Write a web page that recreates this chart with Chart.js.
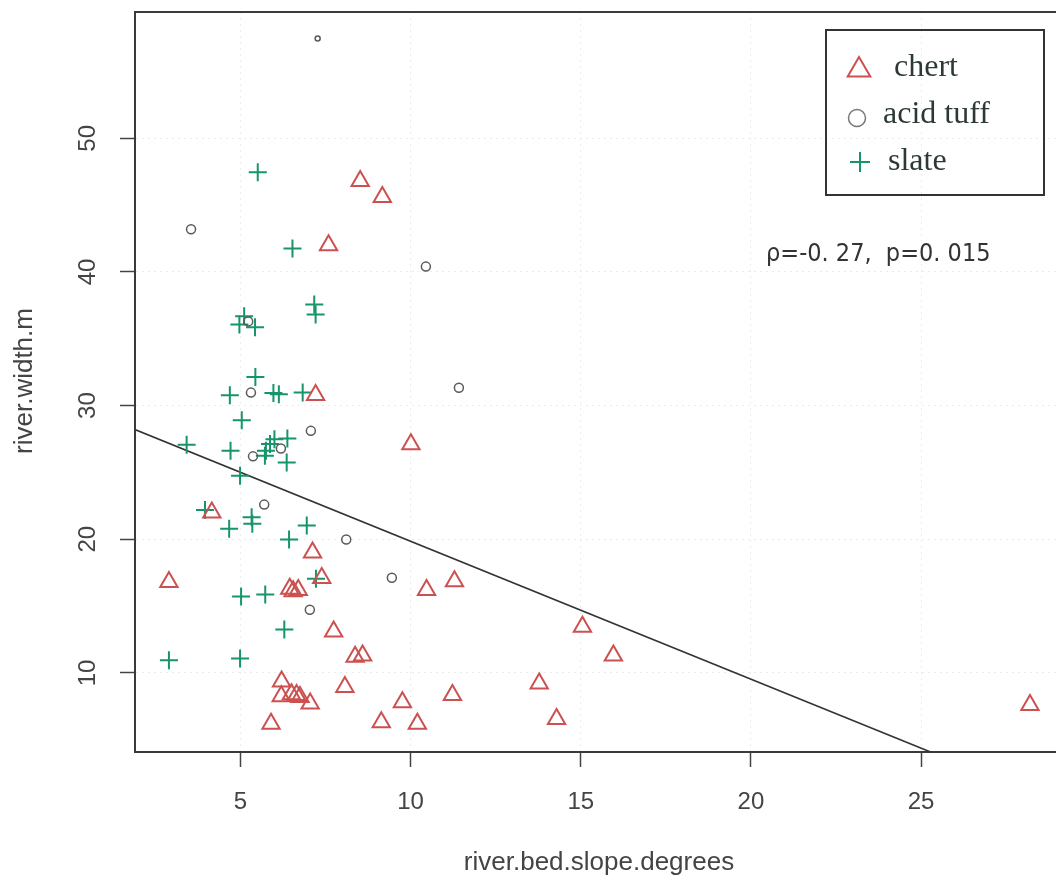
<!DOCTYPE html>
<html lang="en">
<head>
    <meta charset="UTF-8">
    <title>river width vs river bed slope</title>
    <style>
        body {
            margin: 0;
            padding: 0;
            background: #fff;
            overflow: hidden;
        }

        .chart-container {
            position: relative;
            width: 1100px;
            height: 884px;
        }
    </style>
    <script src="https://cdn.jsdelivr.net/npm/chart.js"></script>
</head>
<body>
    <div class="chart-container">
        <canvas id="slopeChart"></canvas>
    </div>
    <script>
        // values
        const chertX = [8.52, 9.17, 7.59, 7.21, 10.01, 4.16, 7.12, 2.90, 7.39, 6.45, 6.55, 6.70, 10.47, 11.29, 7.74, 8.37, 8.59,
                        15.05, 15.96, 6.21, 8.07, 13.78, 6.20, 6.50, 6.65, 6.75, 11.23, 7.05, 9.76, 5.90, 9.14, 10.20, 14.29, 28.20];
        const chertY = [46.8, 45.6, 42.0, 30.8, 27.1, 22.0, 19.0, 16.8, 17.1, 16.3, 16.1, 16.2, 16.2, 16.85, 13.1, 11.2, 11.3,
                        13.45, 11.3, 9.35, 8.95, 9.2, 8.25, 8.4, 8.35, 8.2, 8.35, 7.7, 7.8, 6.2, 6.3, 6.2, 6.55, 7.6];

        const tuffX = [7.27, 3.55, 10.45, 11.42, 5.23, 5.31, 7.07, 6.19, 5.37, 5.70, 8.11, 9.45, 7.04];
        const tuffY = [57.46, 43.2, 40.4, 31.34, 36.3, 30.97, 28.11, 26.79, 26.2, 22.59, 19.98, 17.12, 14.73];
        const tuffSize = [2.5, 4.5, 4.5, 4.5, 4.5, 4.5, 4.5, 4.5, 4.5, 4.5, 4.5, 4.5, 4.5];

        const slateX = [5.51, 6.53, 7.17, 7.21, 5.11, 4.97, 5.43, 5.44, 4.69, 5.97, 6.13, 6.83, 5.04, 3.42, 4.71, 6.00, 6.38,
                        5.87, 5.75, 5.72, 6.36, 4.99, 3.96, 5.33, 4.67, 5.35, 6.95, 6.43, 7.22, 5.02, 5.73, 6.29, 2.90, 4.99];
        const slateY = [47.46, 41.75, 37.57, 36.82, 36.69, 36.07, 35.87, 32.14, 30.78, 30.95, 30.85, 30.97, 28.91, 27.07, 26.62, 27.49, 27.54,
                        27.12, 26.62, 26.25, 25.75, 24.75, 22.19, 21.64, 20.78, 21.15, 21.02, 19.98, 17.04, 15.72, 15.87, 13.24, 10.95, 11.07];

        // fitted line, end points where it meets the plot frame
        const fitX = [1.90, 25.28];
        const fitY = [28.21, 4.08];

        const xTicks = [5, 10, 15, 20, 25];
        const yTicks = [10, 20, 30, 40, 50];

        const legendNames = ['chert', 'acid tuff', 'slate'];
        const statText = 'ρ=-0. 27,  p=0. 015';

        const toPoints = (xs, ys) => xs.map((x, i) => ({ x: x, y: ys[i] }));

        const RED = '#cd5050';
        const GREY = '#5a5a5a';
        const GREEN = '#17956a';
        const AXIS_FONT = '"Liberation Sans", Arial, sans-serif';

        // frame top, rotated y labels, axis titles, legend and the statistic
        const decorations = {
            id: 'decorations',
            afterDraw(chart) {
                const { ctx, chartArea: a, scales } = chart;
                ctx.save();

                ctx.strokeStyle = '#3a3a3a';
                ctx.lineWidth = 2;
                ctx.beginPath();
                ctx.moveTo(a.left, a.top);
                ctx.lineTo(a.right, a.top);
                ctx.lineTo(a.right, a.bottom);
                ctx.stroke();

                ctx.fillStyle = '#444';
                ctx.textAlign = 'center';
                ctx.textBaseline = 'middle';
                ctx.font = '24px ' + AXIS_FONT;
                yTicks.forEach(v => {
                    ctx.save();
                    ctx.translate(88, scales.y.getPixelForValue(v));
                    ctx.rotate(-Math.PI / 2);
                    ctx.fillText(String(v), 0, 0);
                    ctx.restore();
                });

                ctx.font = '26px ' + AXIS_FONT;
                ctx.fillText('river.bed.slope.degrees', 599, 863);
                ctx.save();
                ctx.translate(25, 381);
                ctx.rotate(-Math.PI / 2);
                ctx.fillText('river.width.m', 0, 0);
                ctx.restore();

                // legend
                ctx.strokeStyle = '#333';
                ctx.lineWidth = 2;
                ctx.strokeRect(826, 30, 218, 165);

                ctx.strokeStyle = RED;
                ctx.lineWidth = 2;
                ctx.beginPath();
                ctx.moveTo(859, 57);
                ctx.lineTo(870.3, 76.5);
                ctx.lineTo(847.7, 76.5);
                ctx.closePath();
                ctx.stroke();

                ctx.strokeStyle = '#777';
                ctx.lineWidth = 1.5;
                ctx.beginPath();
                ctx.arc(857, 118, 8.5, 0, Math.PI * 2);
                ctx.stroke();

                ctx.strokeStyle = GREEN;
                ctx.lineWidth = 2;
                ctx.beginPath();
                ctx.moveTo(850, 162);
                ctx.lineTo(870, 162);
                ctx.moveTo(860, 152);
                ctx.lineTo(860, 172);
                ctx.stroke();

                ctx.fillStyle = '#2d3a33';
                ctx.textAlign = 'left';
                ctx.textBaseline = 'alphabetic';
                ctx.font = '32px "Liberation Serif", "Times New Roman", serif';
                ctx.fillText(legendNames[0], 894, 76);
                ctx.fillText(legendNames[1], 883, 123);
                ctx.fillText(legendNames[2], 888, 170);

                ctx.fillStyle = '#333';
                ctx.font = '25px "Liberation Sans Narrow", "DejaVu Sans Condensed", sans-serif';
                ctx.fillText(statText, 766, 261);

                ctx.restore();
            }
        };

        document.addEventListener("DOMContentLoaded", () => {
            const ctx = document.getElementById('slopeChart').getContext('2d');

            new Chart(ctx, {
                type: 'scatter',
                data: {
                    datasets: [{
                        label: legendNames[0],
                        data: toPoints(chertX, chertY),
                        pointStyle: 'triangle',
                        pointRadius: 10,
                        pointBorderWidth: 2,
                        borderColor: RED,
                        backgroundColor: 'rgba(0,0,0,0)'
                    }, {
                        label: legendNames[1],
                        data: toPoints(tuffX, tuffY),
                        pointStyle: 'circle',
                        pointRadius: tuffSize,
                        pointBorderWidth: 1.5,
                        borderColor: GREY,
                        backgroundColor: 'rgba(0,0,0,0)'
                    }, {
                        label: legendNames[2],
                        data: toPoints(slateX, slateY),
                        pointStyle: 'cross',
                        pointRadius: 9,
                        pointBorderWidth: 2,
                        borderColor: GREEN
                    }, {
                        type: 'line',
                        label: 'fit',
                        data: toPoints(fitX, fitY),
                        borderColor: '#333',
                        borderWidth: 1.6,
                        pointRadius: 0,
                        fill: false
                    }]
                },
                options: {
                    responsive: true,
                    maintainAspectRatio: false,
                    animation: false,
                    layout: {
                        padding: { top: 10, right: 36, left: 0, bottom: 0 }
                    },
                    plugins: {
                        legend: { display: false },
                        tooltip: { enabled: false }
                    },
                    scales: {
                        x: {
                            type: 'linear',
                            min: 1.903,
                            max: 29.2,
                            afterBuildTicks: scale => { scale.ticks = xTicks.map(v => ({ value: v })); },
                            afterFit: scale => { scale.height = 132; },
                            ticks: {
                                color: '#444',
                                padding: 21,
                                font: { family: AXIS_FONT, size: 24 }
                            },
                            grid: {
                                color: '#ececec',
                                lineWidth: 1,
                                tickLength: 15,
                                tickColor: '#444',
                                tickWidth: 1.5
                            },
                            border: { color: '#3a3a3a', width: 2, dash: [2, 4] }
                        },
                        y: {
                            type: 'linear',
                            min: 4.08,
                            max: 59.45,
                            afterBuildTicks: scale => { scale.ticks = yTicks.map(v => ({ value: v })); },
                            afterFit: scale => { scale.width = 135; },
                            ticks: { display: false },
                            grid: {
                                color: '#ececec',
                                lineWidth: 1,
                                tickLength: 15,
                                tickColor: '#444',
                                tickWidth: 1.5
                            },
                            border: { color: '#3a3a3a', width: 2, dash: [2, 4] }
                        }
                    }
                },
                plugins: [decorations]
            });
        });
    </script>
</body>
</html>
